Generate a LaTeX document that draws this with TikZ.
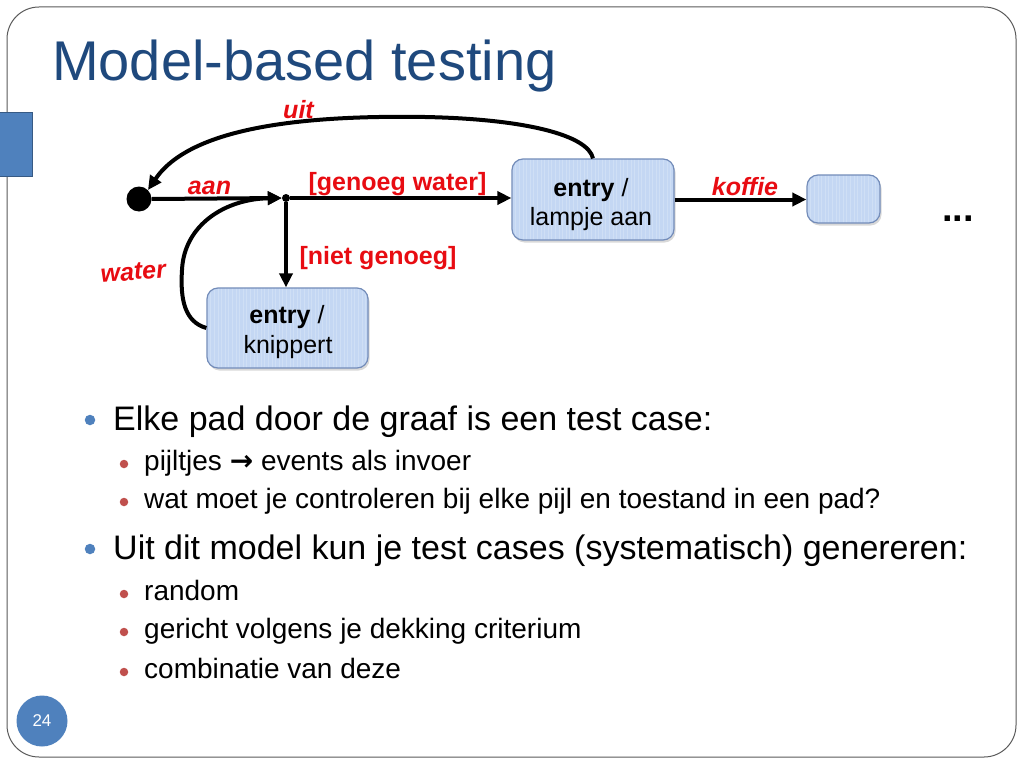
\documentclass[tikz,border=0pt]{standalone}
\usepackage{fontspec}
\setmainfont{Liberation Sans}
\newfontfamily\dejavu{DejaVu Sans}
\usetikzlibrary{arrows.meta,shadows}
\definecolor{titleblue}{RGB}{31,73,125}
\definecolor{accentblue}{RGB}{79,129,189}
\definecolor{subred}{RGB}{192,80,77}
\definecolor{labred}{RGB}{232,12,18}
\definecolor{boxfill}{RGB}{196,215,243}
\definecolor{boxdraw}{RGB}{115,140,185}
\definecolor{framegray}{RGB}{90,90,90}
\newcommand{\fsz}[1]{\fontsize{#1}{#1}\selectfont}
\begin{document}
\begin{tikzpicture}[x=1pt,y=-1pt,
  lab/.style={text=labred, font=\fsz{25}\bfseries\itshape, inner sep=0, anchor=base},
  guard/.style={text=labred, font=\fsz{25}\bfseries, inner sep=0, anchor=base},
  boxtxt/.style={font=\fsz{25}, inner sep=0, anchor=base},
  state/.style={draw=boxdraw, fill=boxfill, line width=1.2pt, rounded corners=11pt,
    inner sep=0, drop shadow={shadow xshift=1.5pt, shadow yshift=-2.5pt, opacity=0.3},
    path picture={\foreach \k in {0,...,48}{\draw[white, opacity=0.2, line width=0.6pt]
      ([xshift=\k*3.6pt]path picture bounding box.north west) --
      ([xshift=\k*3.6pt]path picture bounding box.south west);}}},
  arr/.style={line width=4pt, -{Triangle[length=14pt,width=13pt]}},
  mainb/.style={font=\fsz{34}, inner sep=0, anchor=base west},
  subb/.style={font=\fsz{28}, inner sep=0, anchor=base west},
  dotmain/.style={circle, fill=accentblue, minimum size=10.5pt, inner sep=0},
  dotsub/.style={circle, fill=subred, minimum size=8.5pt, inner sep=0}]
\useasboundingbox (0,0) rectangle (1024,768);
\fill[white] (0,0) rectangle (1024,768);
% frame
\draw[framegray, line width=1pt, rounded corners=32pt] (7,7) rectangle (1016,757);
\draw[fill=accentblue, draw=accentblue!70!black, line width=1pt] (-2,112) rectangle (32,176);
% title
\node[font=\fsz{56}, text=titleblue, inner sep=0, anchor=base west] (title) at (52,81) {Model-based testing};
% states
\node[state, minimum width=162pt, minimum height=81pt] (lamp) at (593,199.5) {};
\node[boxtxt] (lampA) at (591,196) {\textbf{entry} /};
\node[boxtxt] (lampB) at (591,225) {lampje aan};
\node[state, minimum width=161pt, minimum height=80pt] (knip) at (287.5,328) {};
\node[boxtxt] (knipA) at (287,323) {\textbf{entry} /};
\node[boxtxt] (knipB) at (288,353) {knippert};
\node[state, minimum width=73pt, minimum height=48pt] (small) at (843.5,199) {};
\node[font=\fsz{38}\bfseries, inner sep=0, anchor=base] (dots) at (958,221) {...};
% pseudo states
\node[circle, fill=black, minimum size=25pt, inner sep=0] (init) at (139,199) {};
\node[circle, fill=black, minimum size=8pt, inner sep=0] (junc) at (286,198) {};
% connectors
\draw[arr] (init.east) -- (junc.west);
\draw[arr] (knip.west) .. controls (185,322) and (180,300) .. (182,270)
  .. controls (184,225) and (225,199) .. (junc.west);
\draw[arr] (junc.east) -- (junc.east -| lamp.west);
\draw[arr] (junc.south) -- (junc.south |- knip.north);
\draw[arr] (lamp.east) -- (lamp.east -| small.west);
\draw[arr] (lamp.north) .. controls (588,135) and (525,119) .. (425,117)
  .. controls (300,115) and (190,128) .. (init.north east);
% labels
\node[lab] (lUit) at (298.5,118) {uit};
\node[lab] (lAan) at (209.5,194) {aan};
\node[guard] (lGen) at (397.5,190) {[genoeg water]};
\node[guard] (lNiet) at (378,264) {[niet genoeg]};
\node[lab, rotate=5] (lWater) at (134,280) {water};
\node[lab] (lKof) at (745,195) {koffie};
% bullets
\node[dotmain] (d1) at (90,420) {};
\node[mainb] (b1) at (113,430) {Elke pad door de graaf is een test case:};
\node[dotsub] (d2) at (124,464) {};
\node[subb] (s1) at (144,470) {pijltjes {\dejavu\bfseries →} events als invoer};
\node[dotsub] (d3) at (124,502) {};
\node[subb] (s2) at (144,508) {wat moet je controleren bij elke pijl en toestand in een pad?};
\node[dotmain] (d4) at (90,549) {};
\node[mainb] (b2) at (113,559) {Uit dit model kun je test cases (systematisch) genereren:};
\node[dotsub] (d5) at (124,594) {};
\node[subb] (s3) at (144,600) {random};
\node[dotsub] (d6) at (124,632) {};
\node[subb] (s4) at (144,638) {gericht volgens je dekking criterium};
\node[dotsub] (d7) at (124,672) {};
\node[subb] (s5) at (144,678) {combinatie van deze};
% page number
\node[circle, fill=accentblue, minimum size=51pt, inner sep=0, text=white, font=\fsz{17}] (pnum) at (42,721) {24};
\end{tikzpicture}
\end{document}
